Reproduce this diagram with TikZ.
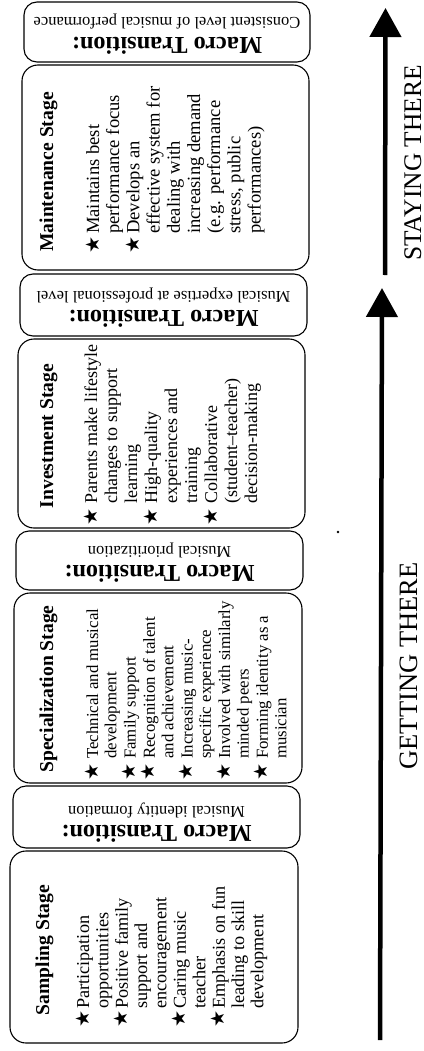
\documentclass[tikz,border=0pt]{standalone}
\usepackage{fontspec}
\setmainfont{Liberation Serif}
\newfontfamily\symfont{DejaVu Sans}
\usetikzlibrary{arrows.meta}
\newcommand{\bstar}{\makebox[10pt][c]{\symfont\fontsize{19}{12}\selectfont ★}}
\tikzset{
  stagebox/.style={draw, line width=1.1pt, rounded corners=16pt, inner sep=0pt},
  macrobox/.style={draw, line width=1.1pt, rounded corners=13pt, inner sep=0pt},
  ttl/.style={rotate=90, anchor=base, inner sep=0pt, font=\fontsize{19.6}{20}\selectfont\bfseries},
  lst/.style={rotate=90, anchor=base west, inner sep=0pt},
  mtitle/.style={rotate=180, anchor=base, inner sep=0pt, font=\fontsize{24.3}{25}\selectfont\bfseries},
  msub/.style={rotate=180, anchor=base, inner sep=0pt, font=\fontsize{16.5}{18}\selectfont},
  bigarrow/.style={line width=4.5pt, -{Triangle[width=31pt,length=29pt]}},
  sidelabel/.style={rotate=90, anchor=base, inner sep=0pt}
}
\begin{document}
\begin{tikzpicture}[x=1pt,y=1pt]
\useasboundingbox (0,0) rectangle (423,-1051);

% boxes
\node[macrobox, minimum width=286pt, minimum height=60pt] (m1) at (167,-32) {};
\node[stagebox, minimum width=287pt, minimum height=205pt] (st4) at (165.5,-167.5) {};
\node[macrobox, minimum width=287pt, minimum height=62pt] (m2) at (163.5,-305) {};
\node[stagebox, minimum width=287pt, minimum height=189pt] (st3) at (161.5,-433.5) {};
\node[macrobox, minimum width=287pt, minimum height=59pt] (m3) at (159.5,-560.5) {};
\node[stagebox, minimum width=288pt, minimum height=190pt] (st2) at (158,-688) {};
\node[macrobox, minimum width=287pt, minimum height=62pt] (m4) at (156.5,-817) {};
\node[stagebox, minimum width=288pt, minimum height=192pt] (st1) at (154,-947) {};

% macro transition texts
\node[mtitle] (m1t) at (167,-38) {Macro Transition:};
\node[msub] (m1s) at (167,-18) {Consistent level of musical performance};
\node[mtitle] (m2t) at (163.5,-310) {Macro Transition:};
\node[msub] (m2s) at (163.5,-291) {Musical expertise at professional level};
\node[mtitle] (m3t) at (159.5,-565) {Macro Transition:};
\node[msub] (m3s) at (159.5,-546) {Musical prioritization};
\node[mtitle] (m4t) at (156.5,-825) {Macro Transition:};
\node[msub] (m4s) at (156.5,-806) {Musical identity formation};

% stage titles
\node[ttl] (st4t) at (53,-172) {Maintenance Stage};
\node[ttl] (st3t) at (53,-436) {Investment Stage};
\node[ttl] (st2t) at (53,-689) {Specialization Stage};
\node[ttl] (st1t) at (49,-950) {Sampling Stage};

% stage lists
\node[lst, font=\fontsize{18.6}{20.2}\selectfont] (st4l) at (99,-250) {%
\begin{tabular}[t]{@{}l@{\hspace{6pt}}l@{}}
\bstar & Maintains best\\
 & performance focus\\
\bstar & Develops an\\
 & effective system for\\
 & dealing with\\
 & increasing demand\\
 & (e.g. performance\\
 & stress, public\\
 & performances)
\end{tabular}};

\node[lst, font=\fontsize{18}{20}\selectfont] (st3l) at (97,-522) {%
\begin{tabular}[t]{@{}l@{\hspace{8pt}}l@{}}
\bstar & Parents make lifestyle\\
 & changes to support\\
 & learning\\
\bstar & High-quality\\
 & experiences and\\
 & training\\
\bstar & Collaborative\\
 & (student–teacher)\\
 & decision-making
\end{tabular}};

\node[lst, font=\fontsize{16.8}{18.4}\selectfont] (st2l) at (98,-777) {%
\begin{tabular}[t]{@{}l@{\hspace{8pt}}l@{}}
\bstar & Technical and musical\\
 & development\\
\bstar & Family support\\
\bstar & Recognition of talent\\
 & and achievement\\
\bstar & Increasing music-\\
 & specific experience\\
\bstar & Involved with similarly\\
 & minded peers\\
\bstar & Forming identity as a\\
 & musician
\end{tabular}};

\node[lst, font=\fontsize{18.2}{19.3}\selectfont] (st1l) at (89,-1024) {%
\begin{tabular}[t]{@{}l@{\hspace{5pt}}l@{}}
\bstar & Participation\\
 & opportunities\\
\bstar & Positive family\\
 & support and\\
 & encouragement\\
\bstar & Caring music\\
 & teacher\\
\bstar & Emphasis on fun\\
 & leading to skill\\
 & development
\end{tabular}};

% arrows
\coordinate (stayS) at (385,-275);
\coordinate (stayE) at (385.5,-8);
\coordinate (getS) at (380,-1040);
\coordinate (getE) at (382,-288);
\draw[bigarrow] (stayS) -- (stayE);
\draw[bigarrow] (getS) -- (getE);

\node[sidelabel, font=\fontsize{25.4}{26}\selectfont] (stayL) at (421,-163) {STAYING THERE};
\node[sidelabel, font=\fontsize{26.5}{27}\selectfont] (getL) at (417,-666) {GETTING THERE};

% stray dot
\fill (338,-532) circle (1.3pt);
\end{tikzpicture}
\end{document}
